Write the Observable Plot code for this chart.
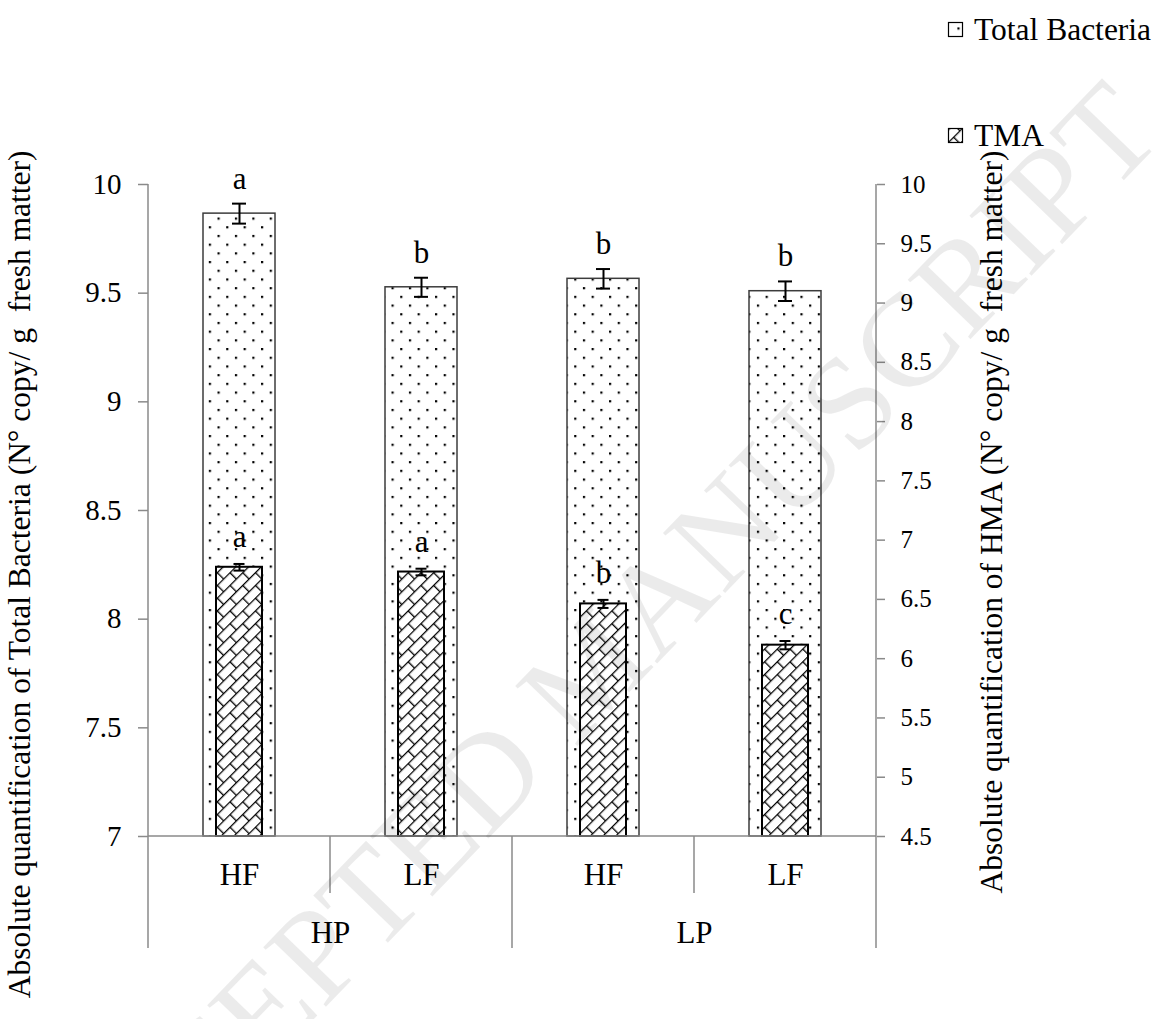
<!DOCTYPE html>
<html><head><meta charset="utf-8">
<script src="https://cdn.jsdelivr.net/npm/d3@7"></script>
<script src="https://cdn.jsdelivr.net/npm/@observablehq/plot@0.6"></script>
<style>
html,body{margin:0;padding:0;background:#fff;}
#wrap{position:relative;width:1157px;height:1019px;overflow:hidden;font-family:"Liberation Serif","Times New Roman",serif;}
#wrap svg text{white-space:pre;}
#legend{position:absolute;left:940px;top:10px;}
</style></head><body><div id="wrap"></div>
<script>
// ---- data ----
const groups = ["HP", "HP", "LP", "LP"];
const subs = ["HF", "LF", "HF", "LF"];
const totalBacteria = [9.866, 9.527, 9.566, 9.509];
const totalErr = [0.046, 0.044, 0.045, 0.045];
const tma = [6.771, 6.731, 6.462, 6.114];
const tmaErr = [0.028, 0.028, 0.034, 0.035];
const tbLetters = ["a", "b", "b", "b"];
const tmaLetters = ["a", "a", "b", "c"];
const leftTicks = [7, 7.5, 8, 8.5, 9, 9.5, 10];
const rightTicks = [4.5, 5, 5.5, 6, 6.5, 7, 7.5, 8, 8.5, 9, 9.5, 10];
const leftTitle = "Absolute quantification of Total Bacteria (N° copy/ g  fresh matter)";
const rightTitle = "Absolute quantification of HMA (N° copy/ g  fresh matter)";
const seriesNames = ["Total Bacteria", "TMA"];
const watermark = "ACCEPTED MANUSCRIPT";

// ---- derived ----
const cats = groups.map((g, i) => g + " " + subs[i]);
const groupNames = [...new Set(groups)];
const L = [leftTicks[0], leftTicks[leftTicks.length - 1]];
const R = [rightTicks[0], rightTicks[rightTicks.length - 1]];
const toLeft = v => L[0] + (v - R[0]) * (L[1] - L[0]) / (R[1] - R[0]);
const fromLeft = v => R[0] + (v - L[0]) * (R[1] - R[0]) / (L[1] - L[0]);
const rows = cats.map((c, i) => ({
  cat: c, sub: subs[i], tb: totalBacteria[i], tbErr: totalErr[i],
  tma: tma[i], tmaErr: tmaErr[i], tbL: tbLetters[i], tmaL: tmaLetters[i]
}));

const W = 1157, H = 1019, ML = 148, MR = 281, MT = 184, MB = 183;
const bw = (W - ML - MR) / cats.length;
const tbIn = (bw - 72) / 2, tmaIn = (bw - 46) / 2;
const capTB = (bw - 14) / 2, capTMA = (bw - 11) / 2;
const axisGray = "#8a8a8a";
const font = "'Liberation Serif','Times New Roman',serif";

const plot = Plot.plot({
  width: W, height: H,
  marginTop: MT, marginBottom: MB, marginLeft: ML, marginRight: MR,
  style: {fontFamily: font, color: "black", background: "transparent", overflow: "visible"},
  x: {domain: cats, padding: 0, axis: null},
  y: {domain: L, axis: null},
  marks: [
    Plot.barY(rows, {x: "cat", y1: () => L[0], y2: "tb", fill: "url(#tbDots)", stroke: "#3c3c3c", strokeWidth: 1.5, insetLeft: tbIn, insetRight: tbIn}),
    Plot.ruleX(rows, {x: "cat", y1: d => d.tb - d.tbErr, y2: d => d.tb + d.tbErr, stroke: "black", strokeWidth: 2}),
    Plot.tickY(rows, {x: "cat", y: d => d.tb + d.tbErr, stroke: "black", strokeWidth: 2, insetLeft: capTB, insetRight: capTB}),
    Plot.tickY(rows, {x: "cat", y: d => d.tb - d.tbErr, stroke: "black", strokeWidth: 2, insetLeft: capTB, insetRight: capTB}),
    Plot.barY(rows, {x: "cat", y1: () => L[0], y2: d => toLeft(d.tma), fill: "url(#tmaBrick)", stroke: "black", strokeWidth: 2, insetLeft: tmaIn, insetRight: tmaIn}),
    Plot.ruleX(rows, {x: "cat", y1: d => toLeft(d.tma - d.tmaErr), y2: d => toLeft(d.tma + d.tmaErr), stroke: "black", strokeWidth: 2}),
    Plot.tickY(rows, {x: "cat", y: d => toLeft(d.tma + d.tmaErr), stroke: "black", strokeWidth: 2, insetLeft: capTMA, insetRight: capTMA}),
    Plot.tickY(rows, {x: "cat", y: d => toLeft(d.tma - d.tmaErr), stroke: "black", strokeWidth: 2, insetLeft: capTMA, insetRight: capTMA}),
    Plot.text(rows, {x: "cat", y: d => d.tb + d.tbErr, text: "tbL", dy: -15, lineAnchor: "bottom", fontSize: 31, fill: "black"}),
    Plot.text(rows, {x: "cat", y: d => toLeft(d.tma + d.tmaErr), text: "tmaL", dy: -17, lineAnchor: "bottom", fontSize: 31, fill: "black"}),
    Plot.axisY({anchor: "left", ticks: leftTicks, tickFormat: d => String(d), tickSize: 10, tickPadding: 17, fontSize: 29, stroke: axisGray, strokeWidth: 1.5, fill: "black", label: null}),
    Plot.axisY({anchor: "right", ticks: rightTicks.map(toLeft), tickFormat: d => String(Math.round(fromLeft(d) * 10) / 10), tickSize: 8, tickPadding: 16, fontSize: 25, stroke: axisGray, strokeWidth: 1.5, fill: "black", label: null}),
    Plot.axisX({anchor: "bottom", tickSize: 0, tickPadding: 26, fontSize: 31, fill: "black", tickFormat: d => subs[cats.indexOf(d)], label: null}),
    Plot.text(groupNames, {x: g => cats[groups.indexOf(g)], dx: bw / 2, frameAnchor: "bottom", dy: 106, lineAnchor: "bottom", fontSize: 31, fill: "black"}),
    Plot.text([leftTitle], {frameAnchor: "top-left", rotate: -90, textAnchor: "end", lineAnchor: "bottom", dx: -119, dy: -34, fontSize: 31.5, fill: "black"}),
    Plot.text([rightTitle], {frameAnchor: "top-right", rotate: -90, textAnchor: "end", lineAnchor: "bottom", dx: 125, dy: -34, fontSize: 31.5, fill: "black"})
  ]
});

// pattern definitions
const svg = d3.select(plot);
const defs = svg.insert("defs", ":first-child");
const dots = defs.append("pattern").attr("id", "tbDots").attr("patternUnits", "userSpaceOnUse")
  .attr("width", 17.4).attr("height", 17.4);
dots.append("rect").attr("width", 17.4).attr("height", 17.4).attr("fill", "white");
dots.append("rect").attr("x", 0).attr("y", 0).attr("width", 2.2).attr("height", 2.2).attr("fill", "black");
dots.append("rect").attr("x", 8.7).attr("y", 8.7).attr("width", 2.2).attr("height", 2.2).attr("fill", "black");
const brick = defs.append("pattern").attr("id", "tmaBrick").attr("patternUnits", "userSpaceOnUse")
  .attr("width", 18).attr("height", 18).attr("patternTransform", "rotate(-45)");
brick.append("rect").attr("width", 18).attr("height", 18).attr("fill", "white");
brick.append("path").attr("d", "M0,0.7H18M0,9.7H18M0.7,0.7V9.7M9.7,9.7V18.7")
  .attr("stroke", "black").attr("stroke-width", 1.3).attr("fill", "none");

// frame and category separator lines drawn from the scales
const xs = plot.scale("x"), ys = plot.scale("y");
const bwS = xs.bandwidth;
const xL = xs.apply(cats[0]), xR = xs.apply(cats[cats.length - 1]) + bwS;
const y0 = ys.apply(L[0]), yT = ys.apply(L[1]);
const g = svg.append("g").attr("stroke", axisGray).attr("stroke-width", 1.5).attr("fill", "none");
const line = (x1, y1, x2, y2) => g.append("line").attr("x1", x1).attr("y1", y1).attr("x2", x2).attr("y2", y2);
line(xL, yT, xL, y0 + 112);
line(xR, yT, xR, y0 + 112);
line(xL, y0, xR, y0);
cats.forEach((c, i) => {
  if (i === 0) return;
  const x = xs.apply(c);
  line(x, y0, x, y0 + (groups[i] === groups[i - 1] ? 57 : 112));
});

// watermark
svg.append("text").text(watermark)
  .attr("transform", "translate(622,700) rotate(-46)")
  .attr("text-anchor", "middle").attr("font-size", 132).attr("font-family", font)
  .attr("fill", "#000").attr("fill-opacity", 0.08).attr("pointer-events", "none");

const wrap = document.getElementById("wrap");
wrap.appendChild(plot);

// legend
const leg = d3.select(wrap).append("svg").attr("id", "legend").attr("width", 217).attr("height", 150)
  .style("font-family", font);
const fills = ["url(#tbDots)", "url(#tmaBrick)"];
const ly = [12, 118];
seriesNames.forEach((name, i) => {
  leg.append("rect").attr("x", 8.5).attr("y", ly[i] + 0.5).attr("width", 14).attr("height", 14)
    .attr("fill", fills[i]).attr("stroke", "black").attr("stroke-width", 1.2);
  leg.append("text").attr("x", 34).attr("y", ly[i] + 18).attr("font-size", 31.5).attr("fill", "black").text(name);
});
</script></body></html>
